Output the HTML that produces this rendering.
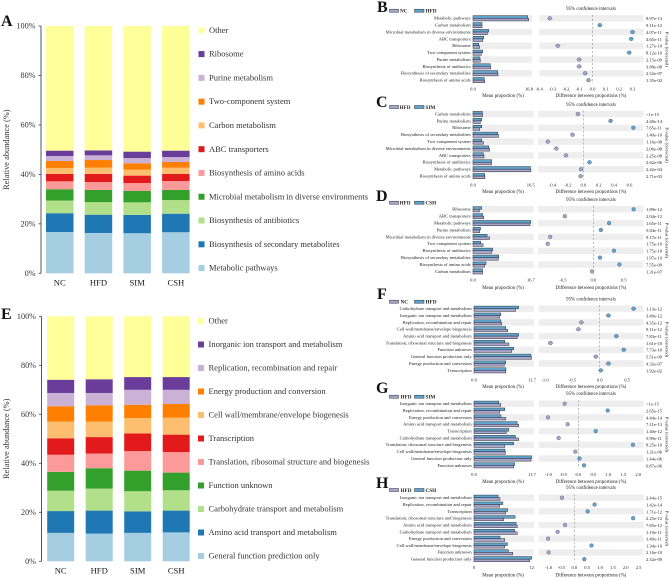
<!DOCTYPE html>
<html lang="en">
<head>
<meta charset="utf-8">
<title>Relative abundance and pairwise comparison charts</title>
<style>
html,body{margin:0;padding:0;background:#fff;}
svg{display:block;font-family:"Liberation Serif",serif;filter:blur(0.3px);}
</style>
</head>
<body>
<svg id="figure" xmlns="http://www.w3.org/2000/svg" width="669" height="578" viewBox="0 0 669 578">
  <rect x="0" y="0" width="669" height="578" fill="#ffffff"/>
  <g font-weight="bold" font-size="16" fill="#111">
    <text x="1" y="26">A</text>
    <text x="1" y="319">E</text>
    <text x="377" y="12">B</text>
    <text x="376" y="107">C</text>
    <text x="376" y="201">D</text>
    <text x="377" y="299">F</text>
    <text x="376" y="393">G</text>
    <text x="376" y="488">H</text>
  </g>
</svg>
<script>
/* ---------- Stacked chart data ---------- */
const stackGroups = ['NC', 'HFD', 'SIM', 'CSH'];
const stackTicks = [0, 20, 40, 60, 80, 100];
const stackColors = ['#a6cee3','#1f78b4','#b2df8a','#33a02c','#fb9a99','#e31a1c','#fdbf6f','#ff7f00','#cab2d6','#6a3d9a','#ffff99'];

const aSeries = ['Metabolic pathways','Biosynthesis of secondary metabolites','Biosynthesis of antibiotics','Microbial metabolism in diverse environments','Biosynthesis of amino acids','ABC transporters','Carbon metabolism','Two-component system','Purine metabolism','Ribosome','Other'];
const aNC  = [16.7,7.6,5.1,4.6,3.2,3.0,2.4,2.8,2.0,2.2,50.4];
const aHFD = [16.3,7.4,5.1,4.9,3.2,3.3,2.5,3.1,1.9,2.0,50.3];
const aSIM = [16.2,7.4,5.1,4.6,3.2,3.0,2.4,2.6,2.1,2.6,50.8];
const aCSH = [16.6,7.5,5.5,4.1,3.6,2.9,2.5,2.3,2.0,2.6,50.4];

const eSeries = ['General function prediction only','Amino acid transport and metabolism','Carbohydrate transport and metabolism','Function unknown','Translation, ribosomal structure and biogenesis','Transcription','Cell wall/membrane/envelope biogenesis','Energy production and conversion','Replication, recombination and repair','Inorganic ion transport and metabolism','Other'];
const eNC  = [11.6,8.9,8.3,7.7,7.0,6.7,6.8,6.3,5.4,5.4,25.9];
const eHFD = [11.3,9.4,9.0,8.3,6.0,6.7,6.3,6.7,5.0,5.6,25.7];
const eSIM = [11.6,8.8,8.2,8.4,8.0,7.2,6.3,5.4,6.1,5.2,24.8];
const eCSH = [11.8,8.9,8.3,7.2,8.4,7.1,6.9,5.6,5.8,5.2,24.8];

/* ---------- Comparison chart data ---------- */
const bLabels = ['Metabolic pathways','Carbon metabolism','Microbial metabolism in diverse environments','ABC transporters','Ribosome','Two-component system','Purine metabolism','Biosynthesis of antibiotics','Biosynthesis of secondary metabolites','Biosynthesis of amino acids'];
const bFirst  = [16.7,2.7,4.3,2.9,2.0,2.5,2.2,5.3,7.5,3.5];
const bSecond = [16.4,2.7,4.7,3.2,1.7,2.9,2.1,5.2,7.4,3.4];
const bDiff   = [-0.32,0.055,0.30,0.29,-0.26,0.275,-0.10,-0.10,-0.055,-0.03];
const bP      = ['8.97e-13','9.11e-13','4.07e-11','4.65e-11','1.27e-10','8.12e-10','2.15e-09','3.88e-08','2.52e-07','1.35e-02'];
const bDiffTicks = [-0.4,-0.3,-0.2,-0.1,0.0,0.1,0.2,0.3];

const cLabels = ['Carbon metabolism','Purine metabolism','Ribosome','Biosynthesis of secondary metabolites','Two-component system','Microbial metabolism in diverse environments','ABC transporters','Biosynthesis of antibiotics','Metabolic pathways','Biosynthesis of amino acids'];
const cFirst  = [2.75,2.1,1.9,7.3,3.0,4.8,3.15,5.3,16.5,3.4];
const cSecond = [2.68,2.5,2.5,7.1,2.5,4.5,3.0,5.3,16.4,3.35];
const cDiff   = [-0.07,0.355,0.65,-0.14,-0.46,-0.35,-0.225,0.08,-0.03,-0.035];
const cP      = ['<1e-15','4.40e-14','7.65e-11','1.40e-10','1.16e-08','2.06e-08','2.25e-08','2.62e-06','2.42e-04','2.71e-03'];
const cDiffTicks = [-0.4,-0.2,0.0,0.2,0.4,0.6];

const dLabels = ['Ribosome','ABC transporters','Metabolic pathways','Purine metabolism','Microbial metabolism in diverse environments','Two-component system','Biosynthesis of antibiotics','Biosynthesis of secondary metabolites','Biosynthesis of amino acids','Carbon metabolism'];
const dFirst  = [1.85,3.1,16.4,1.95,4.75,2.9,5.35,7.3,3.35,2.77];
const dSecond = [2.5,2.8,16.6,2.15,4.05,2.2,5.65,7.4,3.75,2.75];
const dDiff   = [0.665,-0.47,0.26,0.125,-0.71,-0.75,0.34,0.11,0.43,-0.02];
const dP      = ['1.89e-12','2.04e-12','1.65e-11','5.84e-11','9.17e-11','1.75e-10','1.75e-10','1.97e-10','7.55e-09','1.31e-07'];
const dDiffTicks = [-0.5,0.0,0.5];

const fLabels = ['Carbohydrate transport and metabolism','Inorganic ion transport and metabolism','Replication, recombination and repair','Cell wall/membrane/envelope biogenesis','Amino acid transport and metabolism','Translation, ribosomal structure and biogenesis','Function unknown','General function production only','Energy production and conversion','Transcription'];
const fFirst  = [8.4,5.2,5.6,6.8,8.7,7.05,7.6,11.6,6.1,6.4];
const fSecond = [9.0,5.4,5.4,6.4,9.0,6.2,8.0,11.5,6.4,6.45];
const fDiff   = [0.62,0.16,-0.335,-0.39,0.305,-0.90,0.44,-0.07,0.16,0.02];
const fP      = ['1.13e-12','3.49e-12','4.35e-12','9.11e-12','7.83e-11','1.61e-10','7.73e-10','5.51e-09','4.32e-07','1.92e-02'];
const fDiffTicks = [-1.0,-0.5,0.0,0.5];

const gLabels = ['Inorganic ion transport and metabolism','Replication, recombination and repair','Energy production and conversion','Amino acid transport and metabolism','Transcription','Carbohydrate transport and metabolism','Translation, ribosomal structure and biogenesis','Cell wall/membrane/envelope biogenesis','General function production only','Function unknown'];
const gFirst  = [5.4,5.2,6.4,9.0,6.5,9.0,6.2,6.35,11.5,8.0];
const gSecond = [5.0,6.2,5.45,8.7,7.0,8.35,8.0,6.25,11.6,8.2];
const gDiff   = [-0.455,0.98,-1.01,-0.355,0.58,-0.655,1.82,-0.10,0.04,0.19];
const gP      = ['<1e-15','2.65e-15','4.44e-14','7.11e-13','1.40e-12','5.99e-11','8.25e-10','1.21e-06','1.44e-06','6.87e-06'];
const gDiffTicks = [-1.0,-0.5,0.0,0.5,1.0,1.5,2.0];

const hLabels = ['Inorganic ion transport and metabolism','Replication, recombination and repair','Transcription','Translation, ribosomal structure and biogenesis','Amino acid transport and metabolism','Carbohydrate transport and metabolism','Energy production and conversion','Cell wall/membrane/envelope biogenesis','Function unknown','General function production only'];
const hFirst  = [5.4,5.35,6.6,6.2,9.0,9.0,6.4,6.4,8.05,11.6];
const hSecond = [5.0,6.0,7.0,8.55,8.75,8.45,5.4,6.95,7.15,12.0];
const hDiff   = [-0.48,0.79,0.52,2.29,-0.36,-0.65,-1.02,0.67,-1.0,0.39];
const hP      = ['2.44e-15','1.42e-14','1.71e-12','2.25e-12','7.85e-12','1.19e-11','3.40e-11','1.34e-10','2.16e-10','2.32e-09'];
const hDiffTicks = [-1.0,-0.5,0.0,0.5,1.0,1.5,2.0,2.5];

/* ---------- Helpers ---------- */
const NS = 'http://www.w3.org/2000/svg';
const root = document.getElementById('figure');
function shape(tag, parent, props, content) {
  const el = document.createElementNS(NS, tag);
  for (const k in props) el.setAttribute(k, props[k]);
  if (content !== undefined) el.textContent = content;
  parent.appendChild(el);
  return el;
}
function slug(s) {
  return String(s).toLowerCase().replace(/[^a-z0-9]+/g, '-').replace(/^-|-$/g, '');
}

/* ---------- Stacked bars ---------- */
function drawStacked(id, cfg, seriesNames, groupValues) {
  const g = shape('g', root, {});
  
  
  const yScale = v => cfg.y0 + (cfg.y100 - cfg.y0) * v / 100;
  const xBar = i => cfg.barX + i * cfg.barStep;

  groupValues.forEach((vals, i) => {
    let cum = 0;
    vals.forEach((v, s) => {
      const top = yScale(cum + v), bot = yScale(cum);
      const r = shape('rect', g, {x: xBar(i), y: top, width: cfg.barW, height: bot - top, fill: stackColors[s]});
      
      
      cum += v;
    });
    const lab = shape('text', g, {x: xBar(i) + cfg.barW / 2, y: cfg.groupY, 'text-anchor': 'middle', 'font-size': 8.6, fill: '#111'}, stackGroups[i]);
    
    
  });

  const axis = shape('line', g, {x1: cfg.axisX, x2: cfg.axisX, y1: yScale(100), y2: yScale(0), stroke: '#444', 'stroke-width': 0.9});
  
  
  stackTicks.forEach(t => {
    const tk = shape('line', g, {x1: cfg.axisX - 2.5, x2: cfg.axisX, y1: yScale(t), y2: yScale(t), stroke: '#444', 'stroke-width': 0.8});
    
    
    const tl = shape('text', g, {x: cfg.axisX - 5.5, y: yScale(t) + 2.7, 'text-anchor': 'end', 'font-size': 8.2, fill: '#333'}, t + '%');
    
    
  });
  const cy = (yScale(0) + yScale(100)) / 2;
  const title = shape('text', g, {x: 9, y: cy, 'text-anchor': 'middle', 'font-size': 8.4, fill: '#333', transform: 'rotate(-90 9 ' + cy + ')'}, 'Relative abundance (%)');
  
  

  seriesNames.forEach((name, s) => {
    const row = seriesNames.length - 1 - s;
    const ly = cfg.legendY + row * cfg.legendStep;
    const sw = shape('rect', g, {x: cfg.legendX, y: ly - 3, width: 6, height: 6, fill: stackColors[s]});
    
    
    const tx = shape('text', g, {x: cfg.legendX + 10.5, y: ly + 2.6, 'font-size': 8.5, fill: '#333'}, name);
    
    
  });
}

/* ---------- Comparison panels ---------- */
const colFirst = '#a9a4c9';
const colSecond = '#5ea5cf';
const tiny = 4.55;

function drawComparison(id, cfg, names, labels, first, second, diff, pvals, diffTicks, meanMax, meanMaxLabel, meanMinLabel) {
  const g = shape('g', root, {});
  
  
  const rowY = i => cfg.y0 + i * cfg.step;
  const xMean = v => cfg.meanX0 + (cfg.meanX1 - cfg.meanX0) * v / meanMax;
  const xDiff = v => cfg.zero + v * cfg.pxPerUnit;
  const barH = 2.6;

  labels.forEach((name, i) => {
    const y = rowY(i);
    if (i % 2 === 0) {
      const b1 = shape('rect', g, {x: cfg.meanX0, y: y - cfg.step / 2 + 0.2, width: cfg.bandEnd - cfg.meanX0, height: cfg.step - 0.4, fill: '#eeeeee'});
      
      
      const b2 = shape('rect', g, {x: cfg.diffBand0, y: y - cfg.step / 2 + 0.2, width: 643.5 - cfg.diffBand0, height: cfg.step - 0.4, fill: '#eeeeee'});
      
      
    }
    const lb = shape('text', g, {x: cfg.meanX0 - 2.3, y: y + 1.4, 'text-anchor': 'end', 'font-size': tiny, fill: '#222'}, name);
    
    

    const r2 = shape('rect', g, {x: cfg.meanX0, y: y - barH, width: xMean(second[i]) - cfg.meanX0, height: barH, fill: colSecond, stroke: '#2a2f3a', 'stroke-width': 0.5});
    
    
    const r1 = shape('rect', g, {x: cfg.meanX0, y: y, width: xMean(first[i]) - cfg.meanX0, height: barH, fill: colFirst, stroke: '#2a2f3a', 'stroke-width': 0.5});
    
    

    const px = shape('text', g, {x: 646, y: y + 1.9, 'font-size': tiny, fill: '#222'}, pvals[i]);
    
    
  });

  const zl = shape('line', g, {x1: cfg.zero, x2: cfg.zero, y1: rowY(0) - cfg.step / 2, y2: rowY(9) + cfg.step / 2, stroke: '#777', 'stroke-width': 0.5, 'stroke-dasharray': '2 2'});
  
  

  labels.forEach((name, i) => {
    const y = rowY(i);
    const c = diff[i] < 0 ? colFirst : colSecond;
    const w = shape('line', g, {x1: xDiff(diff[i] - cfg.ci), x2: xDiff(diff[i] + cfg.ci), y1: y, y2: y, stroke: '#555', 'stroke-width': 0.5});
    
    
    const p = shape('circle', g, {cx: xDiff(diff[i]), cy: y, r: 1.9, fill: c, stroke: '#56607a', 'stroke-width': 0.4});
    
    
  });

  /* mean axis labels */
  [[0, meanMinLabel], [meanMax, meanMaxLabel]].forEach(pair => {
    const t = shape('text', g, {x: xMean(pair[0]), y: cfg.tickY + 1.5, 'text-anchor': 'middle', 'font-size': tiny, fill: '#222'}, pair[1]);
    
    
  });
  diffTicks.forEach(v => {
    const t = shape('text', g, {x: xDiff(v), y: cfg.tickY + 1.5, 'text-anchor': 'middle', 'font-size': tiny, fill: '#222'}, v.toFixed(1));
    
    
  });

  const t1 = shape('text', g, {x: 503, y: cfg.titleY + 1.5, 'text-anchor': 'middle', 'font-size': 4.9, fill: '#222'}, 'Mean proportion (%)');
  
  
  const t2 = shape('text', g, {x: 591, y: cfg.titleY + 1.5, 'text-anchor': 'middle', 'font-size': 4.9, fill: '#222'}, 'Difference between proportions (%)');
  
  
  const t3 = shape('text', g, {x: 591, y: cfg.confY + 1.5, 'text-anchor': 'middle', 'font-size': 4.9, fill: '#222'}, '95% confidence intervals');
  
  
  const midY = (rowY(0) + rowY(9)) / 2;
  const t4 = shape('text', g, {x: 665.5, y: midY, 'text-anchor': 'middle', 'font-size': 4.6, fill: '#222', transform: 'rotate(90 665.5 ' + midY + ')'}, 'P-value (corrected)');
  
  

  const s1 = shape('rect', g, {x: 389.5, y: cfg.legendY - 1.5, width: 9, height: 3, fill: colFirst, stroke: '#2a2f3a', 'stroke-width': 0.5});
  
  
  const l1 = shape('text', g, {x: cfg.legendText1, y: cfg.legendY + 1.8, 'font-size': 5.2, fill: '#222', 'font-weight': 'bold'}, names[0]);
  
  
  const s2 = shape('rect', g, {x: 414.5, y: cfg.legendY - 1.5, width: 9.5, height: 3, fill: colSecond, stroke: '#2a2f3a', 'stroke-width': 0.5});
  
  
  const l2 = shape('text', g, {x: 425.5, y: cfg.legendY + 1.8, 'font-size': 5.2, fill: '#222', 'font-weight': 'bold'}, names[1]);
  
  
}

/* ---------- Render ---------- */
drawStacked('a', {y0: 273.3, y100: 26, barX: 46, barStep: 38.7, barW: 27.5, axisX: 41, groupY: 285.5, legendX: 198.5, legendY: 30.3, legendStep: 23.78}, aSeries, [aNC, aHFD, aSIM, aCSH]);
drawStacked('e', {y0: 561.3, y100: 316.3, barX: 47.2, barStep: 38.5, barW: 27, axisX: 41.5, groupY: 573.5, legendX: 198, legendY: 321, legendStep: 23.5}, eSeries, [eNC, eHFD, eSIM, eCSH]);

drawComparison('b', {y0: 18.3, step: 6.87, meanX0: 473, meanX1: 529, bandEnd: 532, diffBand0: 539.3, zero: 592.5, pxPerUnit: 133.4, ci: 0.02, tickY: 89, titleY: 95.7, confY: 8.3, legendY: 10.7, legendText1: 400}, ['NC', 'HFD'], bLabels, bFirst, bSecond, bDiff, bP, bDiffTicks, 16.8, '16.8', '0.0');
drawComparison('c', {y0: 114, step: 6.9, meanX0: 473, meanX1: 530.7, bandEnd: 533.7, diffBand0: 538, zero: 583.3, pxPerUnit: 77, ci: 0.03, tickY: 185, titleY: 191.7, confY: 104.3, legendY: 107, legendText1: 399.5}, ['HFD', 'SIM'], cLabels, cFirst, cSecond, cDiff, cP, cDiffTicks, 16.5, '16.5', '0.0');
drawComparison('d', {y0: 209.3, step: 6.9, meanX0: 473, meanX1: 531, bandEnd: 533.7, diffBand0: 538, zero: 593.3, pxPerUnit: 60.7, ci: 0.03, tickY: 280, titleY: 287.3, confY: 199.7, legendY: 202.7, legendText1: 399.5}, ['HFD', 'CSH'], dLabels, dFirst, dSecond, dDiff, dP, dDiffTicks, 16.7, '16.7', '0.0');
drawComparison('f', {y0: 308.7, step: 6.85, meanX0: 474, meanX1: 532, bandEnd: 534, diffBand0: 538.7, zero: 599.7, pxPerUnit: 54.7, ci: 0.05, tickY: 380, titleY: 386.7, confY: 299, legendY: 301.7, legendText1: 400.5}, ['NC', 'HFD'], fLabels, fFirst, fSecond, fDiff, fP, fDiffTicks, 11.7, '11.7', '0.0');
drawComparison('g', {y0: 403.7, step: 6.85, meanX0: 474, meanX1: 532, bandEnd: 534, diffBand0: 538.7, zero: 578.3, pxPerUnit: 30, ci: 0.05, tickY: 474.7, titleY: 481.7, confY: 393.7, legendY: 396.7, legendText1: 400.5}, ['HFD', 'SIM'], gLabels, gFirst, gSecond, gDiff, gP, gDiffTicks, 11.7, '11.7', '0.0');
drawComparison('h', {y0: 497.7, step: 6.83, meanX0: 474, meanX1: 531.7, bandEnd: 534, diffBand0: 538.7, zero: 574.3, pxPerUnit: 25.7, ci: 0.05, tickY: 567.7, titleY: 575, confY: 487.3, legendY: 490, legendText1: 400.5}, ['HFD', 'CSH'], hLabels, hFirst, hSecond, hDiff, hP, hDiffTicks, 12, '12', '0');
</script>
</body>
</html>
